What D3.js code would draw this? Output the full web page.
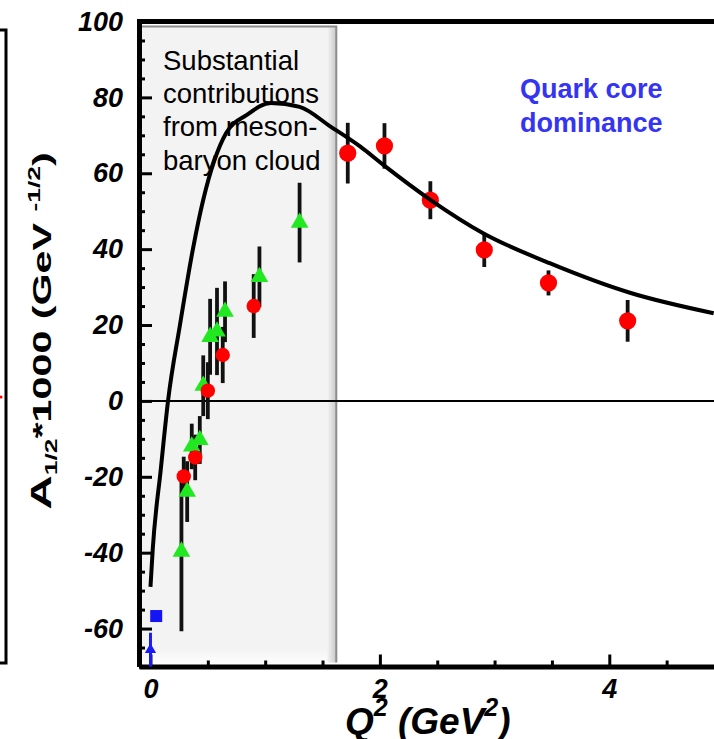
<!DOCTYPE html>
<html>
<head>
<meta charset="utf-8">
<script src="https://cdn.jsdelivr.net/npm/d3@7"></script>
<style>
  body { margin: 0; background: #fff; }
  svg { display: block; font-family: "Liberation Sans", Arial, sans-serif; }
</style>
</head>
<body>
<div id="chart"></div>
<script>
// theory curve (Q^2, A1/2*1000)
const curveQ2 = [0, 0.02, 0.09, 0.153, 0.257, 0.37, 0.46, 0.66, 0.84, 1.05, 1.30, 1.57, 1.83, 2.03, 2.44, 2.90, 3.48, 4.18, 4.91];
const curveA  = [-49, -39, -18, 0, 20, 40, 53, 70.6, 75.4, 78.5, 77.5, 72.3, 67, 62.2, 53, 44.2, 36.3, 28.5, 23.1];

// red circles, low Q^2
const redLowQ2  = [0.29, 0.39, 0.50, 0.63, 0.90];
const redLowA   = [-19.9, -14.9, 2.7, 12.1, 25.0];
const redLowErr = [5.2, 6, 7.5, 7.4, 8.4];

// red circles, high Q^2
const redHighQ2  = [1.72, 2.04, 2.44, 2.91, 3.47, 4.16];
const redHighA   = [65.3, 67.2, 52.9, 39.8, 31.1, 21.1];
const redHighErr = [8, 6, 5, 4.5, 3.3, 5.5];

// green triangles
const greenQ2  = [0.27, 0.32, 0.36, 0.43, 0.46, 0.52, 0.58, 0.65, 0.95, 1.30];
const greenA   = [-39.7, -23.9, -12, -10.3, 4, 16.9, 18.3, 23.5, 32.7, 47];
const greenErr = [21, 8, 6, 6.3, 8, 10, 11.5, 8, 8, 10.5];

// photon point (Q^2 = 0)
const blueSquare = [0.05, -56.7];
const blueTri = [0, -65.6, 4.5];

const cloudRegion = [-0.1, 1.62];
const yTicks = [-60, -40, -20, 0, 20, 40, 60, 80, 100];
const xTicks = [0, 2, 4];

const width = 714, height = 739;
const svg = d3.select("#chart").append("svg")
  .attr("width", width).attr("height", height);

const x = d3.scaleLinear().domain([-0.1, 5]).range([139, 724]);
const y = d3.scaleLinear().domain([-70, 100]).range([666.5, 21.5]);

// gradients for the bevelled grey box
const defs = svg.append("defs");
const gr = defs.append("linearGradient").attr("id", "edgeR").attr("x1", 0).attr("x2", 1).attr("y1", 0).attr("y2", 0);
gr.append("stop").attr("offset", 0).attr("stop-color", "#f3f3f3");
gr.append("stop").attr("offset", 1).attr("stop-color", "#c8c8c8");
const gb = defs.append("linearGradient").attr("id", "edgeB").attr("x1", 0).attr("x2", 0).attr("y1", 0).attr("y2", 1);
gb.append("stop").attr("offset", 0).attr("stop-color", "#f3f3f3");
gb.append("stop").attr("offset", 1).attr("stop-color", "#fdfdfd");

// neighbour panel frame on the far left
svg.append("path").attr("d", "M0,30H6V663H0").attr("fill", "none").attr("stroke", "#000").attr("stroke-width", 3);
svg.append("circle").attr("cx", 1).attr("cy", 397).attr("r", 1.5).attr("fill", "red");

// meson-cloud region
const bx0 = x(cloudRegion[0]), bx1 = x(cloudRegion[1]);
const by0 = y(100) + 5, by1 = y(-70) - 4;
svg.append("rect").attr("x", bx0).attr("y", by0).attr("width", bx1 - bx0).attr("height", by1 - by0)
  .attr("fill", "#f3f3f3");
svg.append("rect").attr("x", bx0).attr("y", by1 - 14).attr("width", bx1 - bx0).attr("height", 14)
  .attr("fill", "url(#edgeB)");
svg.append("rect").attr("x", bx1 - 9).attr("y", by0).attr("width", 9).attr("height", by1 - by0)
  .attr("fill", "url(#edgeR)");
svg.append("path").attr("d", `M${bx0},${by0}H${bx1}V${by1}`)
  .attr("fill", "none").attr("stroke", "#8c8c8c").attr("stroke-width", 2);

const cloudText = ["Substantial", "contributions", "from meson-", "baryon cloud"];
svg.append("g").selectAll("text").data(cloudText).join("text")
  .attr("x", 163).attr("y", (d, i) => 70 + i * 33.2)
  .attr("font-size", 27.5).attr("fill", "#000").text(d => d);

const quarkText = ["Quark core", "dominance"];
svg.append("g").selectAll("text").data(quarkText).join("text")
  .attr("x", 520).attr("y", (d, i) => 98 + i * 34)
  .attr("font-size", 27).attr("font-weight", "bold").attr("fill", "#3434f2").text(d => d);

// zero line
svg.append("line").attr("x1", x(-0.1)).attr("x2", x(5)).attr("y1", y(0)).attr("y2", y(0))
  .attr("stroke", "#000").attr("stroke-width", 2);

// axes
function styleAxis(g, tw) {
  g.selectAll(".tick line").attr("stroke", "#000").attr("stroke-width", tw);
  g.selectAll(".domain").attr("stroke", "#000").attr("stroke-width", 5);
  g.selectAll("text").attr("fill", "#000").attr("font-size", 27)
    .attr("font-weight", "bold").attr("font-style", "italic")
    .attr("font-family", "'Liberation Sans', Arial, sans-serif");
}

const yMinor = d3.range(-70, 101, 5).filter(v => v % 20 !== 0);
const gyMinor = svg.append("g").attr("transform", `translate(${x(-0.1)},0)`)
  .call(d3.axisLeft(y).tickValues(yMinor).tickSizeInner(-6).tickSizeOuter(0).tickFormat(""));
gyMinor.select(".domain").remove();
styleAxis(gyMinor, 3);

const gy = svg.append("g").attr("transform", `translate(${x(-0.1)},0)`)
  .call(d3.axisLeft(y).tickValues(yTicks).tickSizeInner(-13).tickSizeOuter(0).tickPadding(16)
    .tickFormat(d => String(d)));
styleAxis(gy, 3);

const xMinor = d3.range(0.5, 5, 0.5).filter(v => !xTicks.includes(v));
const gxMinor = svg.append("g").attr("transform", `translate(0,${y(-70)})`)
  .call(d3.axisBottom(x).tickValues(xMinor).tickSizeInner(-6).tickSizeOuter(0).tickFormat(""));
gxMinor.select(".domain").remove();
styleAxis(gxMinor, 3);

const gx = svg.append("g").attr("transform", `translate(0,${y(-70)})`)
  .call(d3.axisBottom(x).tickValues(xTicks).tickSizeInner(-12).tickSizeOuter(0).tickPadding(12)
    .tickFormat(d => String(d)));
styleAxis(gx, 3);

// top frame
svg.append("line").attr("x1", x(-0.1) - 2).attr("x2", width).attr("y1", y(100)).attr("y2", y(100))
  .attr("stroke", "#000").attr("stroke-width", 5);

// axis titles
const yl = svg.append("g").attr("transform", "translate(51,331) rotate(-90) scale(1.65,1)")
  .append("text").attr("text-anchor", "middle").attr("font-weight", "bold").attr("font-size", 25)
  .style("white-space", "pre");
yl.append("tspan").attr("font-size", 29).text("A");
yl.append("tspan").attr("font-size", 16).attr("dy", 6).text("1/2");
yl.append("tspan").attr("dy", -6).text("*1000 (GeV ");
yl.append("tspan").attr("font-size", 16).attr("dy", -11).text("-1/2");
yl.append("tspan").attr("dy", 11).text(")");

const xt = svg.append("text").attr("x", 345).attr("y", 734)
  .attr("font-size", 37).attr("font-weight", "bold").attr("font-style", "italic")
  .style("white-space", "pre");
xt.append("tspan").text("Q");
xt.append("tspan").attr("font-size", 25).attr("dy", -18).text("2");
xt.append("tspan").attr("dy", 18).text(" (GeV");
xt.append("tspan").attr("font-size", 25).attr("dy", -18).text("2");
xt.append("tspan").attr("dy", 18).text(")");

// data
const redLow = redLowQ2.map((q, i) => ({ q, a: redLowA[i], e: redLowErr[i] }));
const redHigh = redHighQ2.map((q, i) => ({ q, a: redHighA[i], e: redHighErr[i] }));
const green = greenQ2.map((q, i) => ({ q, a: greenA[i], e: greenErr[i] }));

const bars = svg.append("g").attr("stroke", "#111").attr("stroke-width", 3.8);
bars.selectAll("line").data(green.concat(redLow, redHigh)).join("line")
  .attr("x1", d => x(d.q)).attr("x2", d => x(d.q))
  .attr("y1", d => y(d.a + d.e)).attr("y2", d => y(d.a - d.e));

svg.append("g").selectAll("path").data(green).join("path")
  .attr("d", d3.symbol(d3.symbolTriangle, 135))
  .attr("transform", d => `translate(${x(d.q)},${y(d.a)})`)
  .attr("fill", "#22e822");

svg.append("g").selectAll("circle").data(redLow).join("circle")
  .attr("cx", d => x(d.q)).attr("cy", d => y(d.a)).attr("r", 7.2).attr("fill", "#ff0000");
svg.append("g").selectAll("circle").data(redHigh).join("circle")
  .attr("cx", d => x(d.q)).attr("cy", d => y(d.a)).attr("r", 8.6).attr("fill", "#ff0000");

// photon point
svg.append("line").attr("x1", x(blueTri[0])).attr("x2", x(blueTri[0]))
  .attr("y1", y(blueTri[1] + blueTri[2])).attr("y2", y(Math.max(-70, blueTri[1] - blueTri[2])))
  .attr("stroke", "#1a1af5").attr("stroke-width", 3);
svg.append("path").attr("d", d3.symbol(d3.symbolTriangle, 55))
  .attr("transform", `translate(${x(blueTri[0])},${y(blueTri[1])})`).attr("fill", "#1a1af5");
svg.append("path").attr("d", d3.symbol(d3.symbolSquare, 144))
  .attr("transform", `translate(${x(blueSquare[0])},${y(blueSquare[1])})`).attr("fill", "#1414f5");

// theory curve
const line = d3.line().x(d => x(d[0])).y(d => y(d[1])).curve(d3.curveMonotoneX);
svg.append("path").datum(curveQ2.map((q, i) => [q, curveA[i]]))
  .attr("d", line).attr("fill", "none").attr("stroke", "#000").attr("stroke-width", 4);
</script>
</body>
</html>
